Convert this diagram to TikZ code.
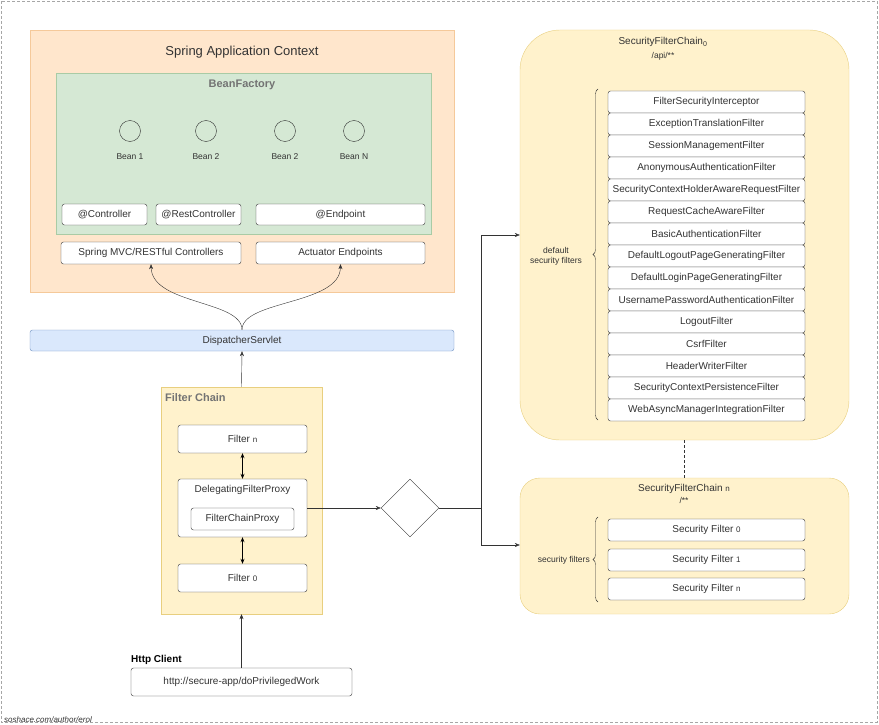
\documentclass[tikz,border=0pt]{standalone}
\usepackage{fontspec}
\setmainfont{Liberation Sans}
\usetikzlibrary{shapes.geometric, arrows.meta, positioning, decorations.pathreplacing}
\definecolor{ctxfill}{HTML}{FFE6CC}
\definecolor{ctxdraw}{HTML}{F5C99A}
\definecolor{bffill}{HTML}{D5E8D4}
\definecolor{bfdraw}{HTML}{A9CBA5}
\definecolor{dsfill}{HTML}{DAE8FC}
\definecolor{dsdraw}{HTML}{6C8EBF}
\definecolor{ylfill}{HTML}{FFF2CC}
\definecolor{yldraw}{HTML}{E8CF7F}
\definecolor{txt}{HTML}{333333}
\tikzset{
  every node/.style={align=center, text=txt, inner sep=0pt},
  box/.style={rectangle, rounded corners=2.5pt, draw=black!80, fill=white, font=\fontsize{10}{12}\selectfont},
  bean/.style={circle, draw=black!80, minimum size=21pt},
  small/.style={font=\fontsize{8.5}{10}\selectfont},
  arrow/.style={-{Stealth[length=5pt,width=4pt]}, draw=black!80},
  darrow/.style={{Stealth[length=5pt,width=4pt]}-{Stealth[length=5pt,width=4pt]}, draw=black, thick},
}
\newcommand{\subidx}[1]{{\fontsize{8}{9}\selectfont #1}}
\begin{document}
\begin{tikzpicture}[x=1pt, y=-1pt]
  \useasboundingbox (0,0) rectangle (879,725);
  \draw[densely dashed, black!35] (1,1) rectangle (877,722);
  \node[anchor=south west, font=\fontsize{8}{9}\selectfont\itshape] at (4,723) {soshace.com/author/erol};

  % application context
  \draw[fill=ctxfill, draw=ctxdraw] (30,30) rectangle (454,292);
  \node[font=\fontsize{13}{15}\selectfont] at (242,52) {Spring Application Context};
  \draw[fill=bffill, draw=bfdraw] (56,73) rectangle (431,234);
  \node[font=\fontsize{11}{13}\selectfont\bfseries, text=black!55] at (242,85) {BeanFactory};
  \foreach \x/\name/\lbl in {130/b1/Bean 1, 206/b2/Bean 2, 285/b3/Bean 2, 354/bn/Bean N} {
    \node[bean] (\name) at (\x,131) {};
    \node[small, below=12pt of \name] {\lbl};
  }
  \node[box, minimum width=85pt, minimum height=21pt] (ctrl) at (104.5,214.5) {@Controller};
  \node[box, minimum width=85pt, minimum height=21pt] (rest) at (198.5,214.5) {@RestController};
  \node[box, minimum width=169pt, minimum height=21pt] (endp) at (340.5,214.5) {@Endpoint};
  \node[box, minimum width=180pt, minimum height=22pt] (mvc) at (151,253) {Spring MVC/RESTful Controllers};
  \node[box, minimum width=169pt, minimum height=22pt] (act) at (340.5,253) {Actuator Endpoints};

  % dispatcher
  \node[rectangle, rounded corners=2.5pt, draw=dsdraw, fill=dsfill, minimum width=424pt, minimum height=21pt,
        font=\fontsize{10}{12}\selectfont] (ds) at (242,340.5) {DispatcherServlet};
  \draw[arrow] (ds.north) .. controls (242,300) and (152,305) .. (mvc.south);
  \draw[arrow] (ds.north) .. controls (242,300) and (340,305) .. (act.south);

  % filter chain
  \node[rectangle, draw=yldraw, fill=ylfill, minimum width=161pt, minimum height=227pt] (fc) at (241.5,500.5) {};
  \node[anchor=north west, font=\fontsize{11}{13}\selectfont\bfseries, text=black!55] at (165,393) {Filter Chain};
  \node[box, minimum width=129pt, minimum height=28pt] (fn) at (242.5,439) {Filter \subidx{n}};
  \node[box, minimum width=129pt, minimum height=58pt] (dfp) at (242.5,508) {};
  \node[font=\fontsize{10}{12}\selectfont] at (242.5,490) {DelegatingFilterProxy};
  \node[box, minimum width=103pt, minimum height=22pt] (fcp) at (242.5,519) {FilterChainProxy};
  \node[box, minimum width=129pt, minimum height=28pt] (f0) at (242.5,578) {Filter \subidx{0}};
  \draw[darrow] (fn.south) -- (dfp.north);
  \draw[darrow] (dfp.south) -- (f0.north);
  \draw[arrow] (fc.north) -- (ds.south);

  % http client
  \node[box, minimum width=221pt, minimum height=28pt] (http) at (241.5,682) {http://secure-app/doPrivilegedWork};
  \node[anchor=south west, font=\fontsize{10}{12}\selectfont\bfseries, text=black] at (131,665) {Http Client};
  \draw[arrow] (http.north) -- (fc.south);

  % decision
  \node[diamond, draw=black!80, fill=white, minimum width=58pt, minimum height=58pt] (dec) at (410,508) {};
  \draw[arrow] (dfp.east) -- (dec.west);
  \coordinate (split) at (481,508);
  \draw[black!80] (dec.east) -- (split);

  % security filter chain 0
  \node[rectangle, rounded corners=40pt, draw=yldraw, fill=ylfill, minimum width=329pt, minimum height=410pt] (sfc0) at (684.5,235) {};
  \node[font=\fontsize{10}{12}\selectfont] at (663,42) {SecurityFilterChain\textsubscript{0}};
  \node[small] at (663,56) {/api/**};
  \foreach \i/\lbl in {0/FilterSecurityInterceptor, 1/ExceptionTranslationFilter, 2/SessionManagementFilter,
      3/AnonymousAuthenticationFilter, 4/SecurityContextHolderAwareRequestFilter, 5/RequestCacheAwareFilter,
      6/BasicAuthenticationFilter, 7/DefaultLogoutPageGeneratingFilter, 8/DefaultLoginPageGeneratingFilter,
      9/UsernamePasswordAuthenticationFilter, 10/LogoutFilter, 11/CsrfFilter, 12/HeaderWriterFilter,
      13/SecurityContextPersistenceFilter, 14/WebAsyncManagerIntegrationFilter} {
    \node[box, minimum width=197pt, minimum height=22pt] (sf\i) at (706.5,102+22*\i) {\lbl};
  }
  \draw[decorate, decoration={brace, amplitude=5pt}, black!80] (598,420) -- (598,89);
  \node[small, anchor=center] at (556,256) {default\\security filters};

  % security filter chain n
  \node[rectangle, rounded corners=20pt, draw=yldraw, fill=ylfill, minimum width=329pt, minimum height=136pt] (sfcn) at (684.5,546) {};
  \node[font=\fontsize{10}{12}\selectfont] at (684,489) {SecurityFilterChain \subidx{n}};
  \node[small] at (684,500) {/**};
  \foreach \i/\y/\lbl in {0/530/0, 1/560/1, 2/589/n} {
    \node[box, minimum width=197pt, minimum height=22pt] (sn\i) at (706.5,\y) {Security Filter \subidx{\lbl}};
  }
  \draw[decorate, decoration={brace, amplitude=5pt}, black!80] (598,602) -- (598,517);
  \node[small, anchor=east] at (590,560) {security filters};
  \draw[black!80, densely dashed] (sfc0.south) -- (sfcn.north);

  % routing
  \draw[black!80] (split) -- (481,235);
  \draw[black!80] (split) -- (481,545);
  \draw[arrow] (481,235) -- (sfc0.west);
  \draw[arrow] (481,545) -- (sfcn.west |- 481,545);
\end{tikzpicture}
\end{document}
